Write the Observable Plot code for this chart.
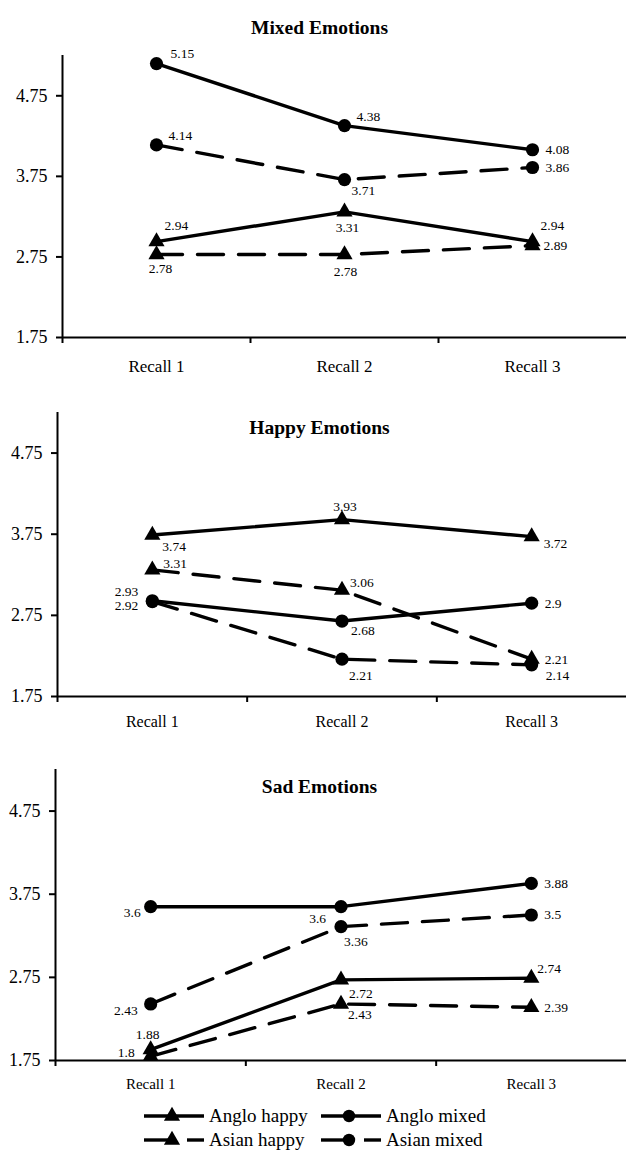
<!DOCTYPE html>
<html><head><meta charset="utf-8">
<script src="https://cdn.jsdelivr.net/npm/d3@7"></script>
<script src="https://cdn.jsdelivr.net/npm/@observablehq/plot@0.6"></script>
<style>
body{margin:0;background:#fff;font-family:"Liberation Serif","Times New Roman",serif;}
#wrap{position:relative;width:626px;height:1155px;overflow:hidden;}
.panel{position:absolute;left:0;}
</style></head><body><div id="wrap"></div>
<script>
// ---------- data ----------
const recalls = ["Recall 1", "Recall 2", "Recall 3"];
const seriesNames = ["Anglo happy", "Anglo mixed", "Asian happy", "Asian mixed"];
const panelTitles = ["Mixed Emotions", "Happy Emotions", "Sad Emotions"];
const yTicks = [1.75, 2.75, 3.75, 4.75];

const mixedAngloHappy = [2.94, 3.31, 2.94];
const mixedAngloMixed = [5.15, 4.38, 4.08];
const mixedAsianHappy = [2.78, 2.78, 2.89];
const mixedAsianMixed = [4.14, 3.71, 3.86];

const happyAngloHappy = [3.74, 3.93, 3.72];
const happyAngloMixed = [2.93, 2.68, 2.9];
const happyAsianHappy = [3.31, 3.06, 2.21];
const happyAsianMixed = [2.92, 2.21, 2.14];

const sadAngloHappy = [1.88, 2.72, 2.74];
const sadAngloMixed = [3.6, 3.6, 3.88];
const sadAsianHappy = [1.8, 2.43, 2.39];
const sadAsianMixed = [2.43, 3.36, 3.5];

// ---------- label placement (anchor, dx, dy) per series per recall ----------
const mixedLabelPos = [
  [["start", 8, -16], ["middle", 3, 16], ["start", 8, -16]],
  [["start", 14, -10], ["start", 12, -9], ["start", 13, 0]],
  [["middle", 4, 14], ["middle", 1, 17], ["start", 11, 0]],
  [["start", 12, -9], ["start", 7, 11], ["start", 13, 0]]
];
const happyLabelPos = [
  [["start", 10, 12], ["middle", 3, -13], ["start", 12, 7]],
  [["end", -14, -9], ["start", 9, 10], ["start", 13, 0]],
  [["start", 11, -6], ["start", 8, -8], ["start", 13, 0]],
  [["end", -14, 4], ["start", 7, 16], ["start", 14, 11]]
];
const sadLabelPos = [
  [["middle", -3, -15], ["start", 8, 14], ["start", 6, -10]],
  [["end", -10, 6], ["end", -15, 12], ["start", 13, 0]],
  [["end", -16, -4], ["start", 7, 11], ["start", 13, 0]],
  [["end", -13, 7], ["start", 3, 15], ["start", 13, 0]]
];

// ---------- styles ----------
const seriesStyle = {
  "Anglo happy": {dash: null, symbol: "triangle"},
  "Anglo mixed": {dash: null, symbol: "circle"},
  "Asian happy": {dash: "26,15", symbol: "triangle"},
  "Asian mixed": {dash: "26,15", symbol: "circle"}
};
const panels = [
  {title: panelTitles[0], values: [mixedAngloHappy, mixedAngloMixed, mixedAsianHappy, mixedAsianMixed], labels: mixedLabelPos,
   top: 0, height: 380, mt: 55, mb: 43, ml: 62, titleDy: -35, recallFont: 17, recallPad: 22},
  {title: panelTitles[1], values: [happyAngloHappy, happyAngloMixed, happyAsianHappy, happyAsianMixed], labels: happyLabelPos,
   top: 380, height: 355, mt: 32, mb: 39, ml: 57, titleDy: 8, recallFont: 16, recallPad: 19},
  {title: panelTitles[2], values: [sadAngloHappy, sadAngloMixed, sadAsianHappy, sadAsianMixed], labels: sadLabelPos,
   top: 735, height: 365, mt: 34, mb: 40, ml: 55, titleDy: 10, recallFont: 15, recallPad: 18}
];

const wrap = document.getElementById("wrap");
const FONT = "'Liberation Serif', 'Times New Roman', serif";

for (const p of panels) {
  const rows = [];
  seriesNames.forEach((s, si) => p.values[si].forEach((v, i) => rows.push({series: s, i, value: v, pos: p.labels[si][i]})));
  const marks = [
    Plot.ruleX([-0.5], {stroke: "black", strokeWidth: 2}),
    Plot.ruleY([1.75], {stroke: "black", strokeWidth: 2}),
    Plot.axisY(yTicks, {label: null, tickSize: 6, tickPadding: 9, fontSize: 18, strokeWidth: 2, tickFormat: d => d.toFixed(2)}),
    Plot.axisX([-0.5, 0.5, 1.5], {label: null, tickSize: 6, strokeWidth: 2, tickFormat: () => ""}),
    Plot.axisX([0, 1, 2], {label: null, tickSize: 0, tickPadding: p.recallPad, fontSize: p.recallFont, tickFormat: i => recalls[i]})
  ];
  for (const s of seriesNames) {
    const st = seriesStyle[s];
    const d = rows.filter(r => r.series === s);
    marks.push(Plot.line(d, {x: "i", y: "value", stroke: "black", strokeWidth: 3.4, strokeDasharray: st.dash || undefined}));
  }
  for (const s of seriesNames) {
    const st = seriesStyle[s];
    const d = rows.filter(r => r.series === s);
    marks.push(Plot.dot(d, {x: "i", y: "value", symbol: st.symbol, fill: "black", stroke: "none", r: st.symbol === "circle" ? 6.6 : 6}));
  }
  for (const r of rows) {
    marks.push(Plot.text([r], {x: "i", y: "value", text: d => String(d.value), textAnchor: r.pos[0], dx: r.pos[1], dy: r.pos[2], fontSize: 13.5, fill: "black"}));
  }
  marks.push(Plot.text([p.title], {frameAnchor: "top-left", dx: 319 - p.ml, dy: p.titleDy, textAnchor: "middle", fontSize: 19.5, fontWeight: "bold", fill: "black"}));

  const chart = Plot.plot({
    width: 626, height: p.height,
    marginTop: p.mt, marginBottom: p.mb, marginLeft: p.ml, marginRight: 0,
    style: {fontFamily: FONT, background: "white", color: "black", overflow: "visible"},
    x: {type: "linear", domain: [-0.5, 2.5], axis: null, label: null},
    y: {type: "linear", domain: [1.75, 5.25], axis: null, label: null},
    marks
  });
  chart.classList.add("panel");
  chart.style.top = p.top + "px";
  wrap.appendChild(chart);
}

// ---------- legend ----------
const legendItems = [
  {name: seriesNames[0], row: 0, col: 0},
  {name: seriesNames[1], row: 0, col: 1},
  {name: seriesNames[2], row: 1, col: 0},
  {name: seriesNames[3], row: 1, col: 1}
];
const colX = [144, 321];
const rowY = [16, 40];
const svg = d3.create("svg").attr("width", 626).attr("height", 55)
  .style("position", "absolute").style("left", "0px").style("top", "1100px");
for (const it of legendItems) {
  const st = seriesStyle[it.name];
  const x0 = colX[it.col], x1 = x0 + 60, xm = x0 + 28, y = rowY[it.row];
  const g = svg.append("g").attr("stroke", "black").attr("stroke-width", 3.4);
  if (st.dash) {
    g.append("line").attr("x1", x0).attr("x2", xm).attr("y1", y).attr("y2", y);
    g.append("line").attr("x1", xm + 15).attr("x2", x1).attr("y1", y).attr("y2", y);
  } else {
    g.append("line").attr("x1", x0).attr("x2", x1).attr("y1", y).attr("y2", y);
  }
  const sym = st.symbol === "circle" ? d3.symbolCircle : d3.symbolTriangle;
  const size = st.symbol === "circle" ? Math.PI * 6.2 * 6.2 : Math.PI * 6 * 6;
  svg.append("path").attr("d", d3.symbol(sym, size)()).attr("transform", `translate(${xm},${y})`).attr("fill", "black");
  svg.append("text").attr("x", x1 + 5).attr("y", y).attr("dy", "0.32em")
    .attr("font-family", FONT).attr("font-size", 19).attr("fill", "black").text(it.name);
}
wrap.appendChild(svg.node());
</script>
</body></html>
